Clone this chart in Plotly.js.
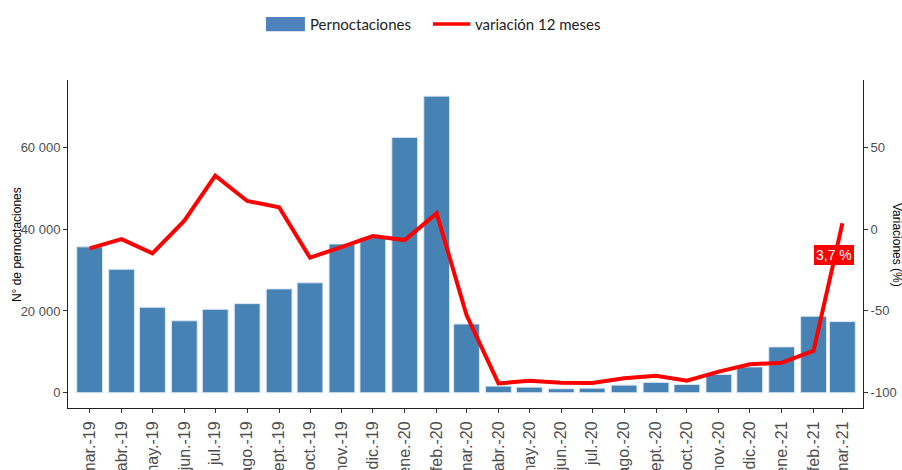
<!DOCTYPE html>
<html>
<head>
<meta charset="utf-8">
<script src="https://cdn.plot.ly/plotly-3.0.1.min.js"></script>
<style>html,body{margin:0;padding:0;background:#fff}#chart{width:902px;height:470px}</style>
</head>
<body>
<div id="chart"></div>
<script>
var months = ["2019-03-01","2019-04-01","2019-05-01","2019-06-01","2019-07-01","2019-08-01","2019-09-01","2019-10-01","2019-11-01","2019-12-01",
  "2020-01-01","2020-02-01","2020-03-01","2020-04-01","2020-05-01","2020-06-01","2020-07-01","2020-08-01","2020-09-01","2020-10-01","2020-11-01","2020-12-01",
  "2021-01-01","2021-02-01","2021-03-01"];
var monthLabels = ["mar.-19","abr.-19","may.-19","jun.-19","jul.-19","ago.-19","sept.-19","oct.-19","nov.-19","dic.-19",
  "ene.-20","feb.-20","mar.-20","abr.-20","may.-20","jun.-20","jul.-20","ago.-20","sept.-20","oct.-20","nov.-20","dic.-20",
  "ene.-21","feb.-21","mar.-21"];
var pernoctaciones = [35700,30200,20900,17600,20400,21800,25400,26900,36400,38000,
  62500,72600,16800,1600,1350,950,1100,1850,2500,2000,4450,6300,11200,18700,17400];
var variacion = [-11.7,-6.0,-14.7,5.3,32.9,17.4,13.5,-17.4,-10.8,-4.1,
  -6.6,9.8,-52.6,-94.5,-92.9,-94.1,-94.3,-91.4,-89.8,-92.9,-87.3,-82.8,-81.8,-74.5,3.7];
var leftTicks = [0,20000,40000,60000];
var leftTickText = ["0","20 000","40 000","60 000"];
var rightTicks = [-100,-50,0,50];
var rightTickText = ["-100","-50","0","50"];
var lastLabel = "3,7 %";

var dayMs = 86400000;
var bars = {
  type: "bar", x: months, y: pernoctaciones, name: "Pernoctaciones",
  width: 25 * dayMs,
  marker: {color: "#4682B4", line: {color: "rgba(220,232,245,0.9)", width: 1}},
  hoverinfo: "x+y", showlegend: false
};
var line = {
  type: "scatter", mode: "lines", x: months, y: variacion, yaxis: "y2",
  name: "variación 12 meses",
  line: {color: "#FF0000", width: 4}, showlegend: false
};

var tickFont = {family: "Liberation Sans, Arial, sans-serif", size: 13, color: "#4D4D4D"};
var layout = {
  width: 902, height: 470,
  margin: {l: 68, r: 39, t: 80, b: 62},
  paper_bgcolor: "#fff", plot_bgcolor: "#fff",
  bargap: 0,
  xaxis: {
    type: "date",
    range: ["2019-02-08", "2021-03-21"],
    tickvals: months, ticktext: monthLabels, tickangle: -90,
    tickfont: {family: "Liberation Sans, Arial, sans-serif", size: 16, color: "#4D4D4D"},
    ticks: "outside", ticklen: 4, tickcolor: "#333", tickwidth: 1, ticklabelstandoff: 2,
    showline: true, linecolor: "#222", linewidth: 1, showgrid: false, zeroline: false
  },
  yaxis: {
    range: [-3750, 76550],
    tickvals: leftTicks, ticktext: leftTickText, tickfont: tickFont,
    ticks: "outside", ticklen: 4, tickcolor: "#333", tickwidth: 1,
    showline: true, linecolor: "#222", linewidth: 1, showgrid: false, zeroline: false
  },
  yaxis2: {
    overlaying: "y", side: "right",
    range: [-109.6, 91.6],
    tickvals: rightTicks, ticktext: rightTickText, tickfont: tickFont,
    ticks: "outside", ticklen: 4, tickcolor: "#333", tickwidth: 1,
    showline: true, linecolor: "#222", linewidth: 1, showgrid: false, zeroline: false
  },
  shapes: [
    {type: "rect", xref: "paper", yref: "paper", x0: 0.249, x1: 0.298, y0: 1.149, y1: 1.192,
     fillcolor: "#4F81BD", line: {width: 0}},
    {type: "line", xref: "paper", yref: "paper", x0: 0.459, x1: 0.506, y0: 1.1707, y1: 1.1707,
     line: {color: "#FF0000", width: 3.5}}
  ],
  annotations: [
    {xref: "paper", yref: "paper", x: 0.302, y: 1.1707, xanchor: "left", yanchor: "middle",
     text: "Pernoctaciones", showarrow: false, font: {family: "Lato, sans-serif", size: 15, color: "#222"}},
    {xref: "paper", yref: "paper", x: 0.509, y: 1.1707, xanchor: "left", yanchor: "middle",
     text: "variación 12 meses", showarrow: false, font: {family: "Lato, sans-serif", size: 15, color: "#222"}},
    {xref: "paper", yref: "paper", x: -0.064, y: 0.497, xanchor: "center", yanchor: "middle",
     text: "N° de pernoctaciones", textangle: -90, showarrow: false,
     font: {family: "Liberation Sans, Arial, sans-serif", size: 12, color: "#000"}},
    {xref: "paper", yref: "paper", x: 1.0428, y: 0.497, xanchor: "center", yanchor: "middle",
     text: "Variaciones (%)", textangle: 90, showarrow: false,
     font: {family: "Liberation Sans, Arial, sans-serif", size: 12, color: "#000"}},
    {xref: "x", yref: "y2", x: "2021-02-21", y: -15.8, xanchor: "center", yanchor: "middle",
     text: lastLabel, showarrow: false, bgcolor: "#FF0000", bordercolor: "#FF0000", borderpad: 1,
     font: {family: "Liberation Sans, Arial, sans-serif", size: 14, color: "#fff"}}
  ]
};
Plotly.newPlot("chart", [bars, line], layout, {displayModeBar: false, staticPlot: true});
</script>
</body>
</html>
